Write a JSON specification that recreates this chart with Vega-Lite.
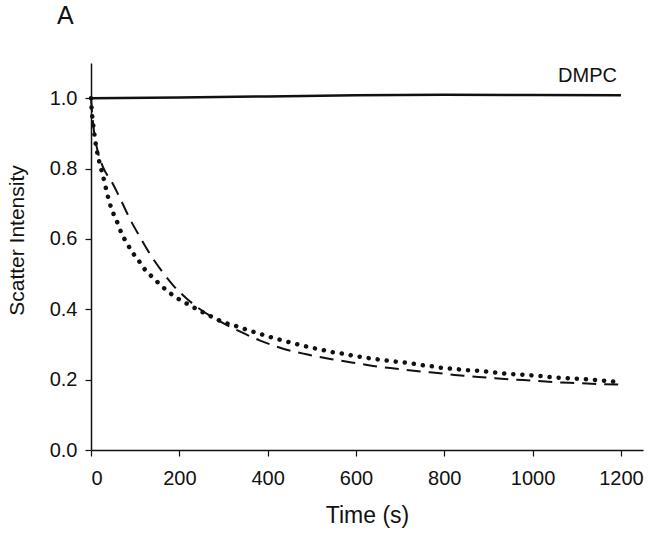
{
  "$schema": "https://vega.github.io/schema/vega-lite/v6.json",
  "width": 552,
  "height": 387,
  "autosize": "none",
  "padding": {"left": 91, "top": 63, "right": 8, "bottom": 90},
  "background": "white",
  "title": {"text": "A", "anchor": "start", "frame": "group", "dx": -34, "offset": 34, "fontSize": 25, "fontWeight": "normal", "font": "Liberation Sans", "color": "#111"},
  "config": {
    "view": {"stroke": null},
    "axis": {"grid": false, "domainColor": "#111", "tickColor": "#111", "domainWidth": 1.5, "tickWidth": 1.2, "labelColor": "#111", "titleColor": "#111", "labelFont": "Liberation Sans", "titleFont": "Liberation Sans", "labelFontSize": 20, "titleFontSize": 22, "titleFontWeight": "normal"}
  },
  "datasets": {
    "curves": [
      {"series": "DMPC", "t": 0, "v": 1.0},
      {"series": "DMPC", "t": 200, "v": 1.002},
      {"series": "DMPC", "t": 400, "v": 1.005},
      {"series": "DMPC", "t": 600, "v": 1.008},
      {"series": "DMPC", "t": 800, "v": 1.01},
      {"series": "DMPC", "t": 1000, "v": 1.009},
      {"series": "DMPC", "t": 1200, "v": 1.008},
      {"series": "dotted", "t": 0, "v": 1.0},
      {"series": "dotted", "t": 2, "v": 0.96},
      {"series": "dotted", "t": 5, "v": 0.925},
      {"series": "dotted", "t": 11, "v": 0.868},
      {"series": "dotted", "t": 19, "v": 0.818},
      {"series": "dotted", "t": 27, "v": 0.78},
      {"series": "dotted", "t": 39, "v": 0.717},
      {"series": "dotted", "t": 45, "v": 0.691},
      {"series": "dotted", "t": 53, "v": 0.665},
      {"series": "dotted", "t": 62, "v": 0.64},
      {"series": "dotted", "t": 69, "v": 0.616},
      {"series": "dotted", "t": 81, "v": 0.589},
      {"series": "dotted", "t": 92, "v": 0.565},
      {"series": "dotted", "t": 107, "v": 0.54},
      {"series": "dotted", "t": 122, "v": 0.513},
      {"series": "dotted", "t": 141, "v": 0.489},
      {"series": "dotted", "t": 160, "v": 0.466},
      {"series": "dotted", "t": 180, "v": 0.445},
      {"series": "dotted", "t": 201, "v": 0.427},
      {"series": "dotted", "t": 220, "v": 0.414},
      {"series": "dotted", "t": 240, "v": 0.4},
      {"series": "dotted", "t": 262, "v": 0.386},
      {"series": "dotted", "t": 281, "v": 0.374},
      {"series": "dotted", "t": 300, "v": 0.363},
      {"series": "dotted", "t": 322, "v": 0.355},
      {"series": "dotted", "t": 341, "v": 0.347},
      {"series": "dotted", "t": 360, "v": 0.339},
      {"series": "dotted", "t": 383, "v": 0.33},
      {"series": "dotted", "t": 401, "v": 0.323},
      {"series": "dotted", "t": 420, "v": 0.316},
      {"series": "dotted", "t": 441, "v": 0.309},
      {"series": "dotted", "t": 462, "v": 0.302},
      {"series": "dotted", "t": 482, "v": 0.296},
      {"series": "dotted", "t": 503, "v": 0.29},
      {"series": "dotted", "t": 522, "v": 0.285},
      {"series": "dotted", "t": 543, "v": 0.279},
      {"series": "dotted", "t": 564, "v": 0.275},
      {"series": "dotted", "t": 586, "v": 0.27},
      {"series": "dotted", "t": 605, "v": 0.266},
      {"series": "dotted", "t": 624, "v": 0.262},
      {"series": "dotted", "t": 647, "v": 0.258},
      {"series": "dotted", "t": 666, "v": 0.255},
      {"series": "dotted", "t": 684, "v": 0.252},
      {"series": "dotted", "t": 707, "v": 0.249},
      {"series": "dotted", "t": 726, "v": 0.246},
      {"series": "dotted", "t": 745, "v": 0.242},
      {"series": "dotted", "t": 767, "v": 0.239},
      {"series": "dotted", "t": 786, "v": 0.235},
      {"series": "dotted", "t": 809, "v": 0.232},
      {"series": "dotted", "t": 828, "v": 0.23},
      {"series": "dotted", "t": 847, "v": 0.227},
      {"series": "dotted", "t": 866, "v": 0.226},
      {"series": "dotted", "t": 888, "v": 0.224},
      {"series": "dotted", "t": 909, "v": 0.221},
      {"series": "dotted", "t": 930, "v": 0.218},
      {"series": "dotted", "t": 949, "v": 0.216},
      {"series": "dotted", "t": 967, "v": 0.215},
      {"series": "dotted", "t": 988, "v": 0.213},
      {"series": "dotted", "t": 1009, "v": 0.211},
      {"series": "dotted", "t": 1028, "v": 0.209},
      {"series": "dotted", "t": 1050, "v": 0.206},
      {"series": "dotted", "t": 1069, "v": 0.205},
      {"series": "dotted", "t": 1092, "v": 0.203},
      {"series": "dotted", "t": 1111, "v": 0.202},
      {"series": "dotted", "t": 1133, "v": 0.2},
      {"series": "dotted", "t": 1152, "v": 0.198},
      {"series": "dotted", "t": 1171, "v": 0.196},
      {"series": "dotted", "t": 1194, "v": 0.193},
      {"series": "dashed", "t": 0, "v": 1.0},
      {"series": "dashed", "t": 3, "v": 0.95},
      {"series": "dashed", "t": 8, "v": 0.895},
      {"series": "dashed", "t": 15, "v": 0.85},
      {"series": "dashed", "t": 28, "v": 0.802},
      {"series": "dashed", "t": 47, "v": 0.762},
      {"series": "dashed", "t": 66, "v": 0.715},
      {"series": "dashed", "t": 88, "v": 0.657},
      {"series": "dashed", "t": 111, "v": 0.605},
      {"series": "dashed", "t": 134, "v": 0.556},
      {"series": "dashed", "t": 160, "v": 0.509},
      {"series": "dashed", "t": 186, "v": 0.468},
      {"series": "dashed", "t": 217, "v": 0.43},
      {"series": "dashed", "t": 247, "v": 0.4},
      {"series": "dashed", "t": 290, "v": 0.367},
      {"series": "dashed", "t": 337, "v": 0.337},
      {"series": "dashed", "t": 383, "v": 0.311},
      {"series": "dashed", "t": 435, "v": 0.288},
      {"series": "dashed", "t": 488, "v": 0.272},
      {"series": "dashed", "t": 545, "v": 0.258},
      {"series": "dashed", "t": 590, "v": 0.249},
      {"series": "dashed", "t": 639, "v": 0.239},
      {"series": "dashed", "t": 692, "v": 0.231},
      {"series": "dashed", "t": 741, "v": 0.224},
      {"series": "dashed", "t": 790, "v": 0.218},
      {"series": "dashed", "t": 843, "v": 0.211},
      {"series": "dashed", "t": 896, "v": 0.206},
      {"series": "dashed", "t": 949, "v": 0.201},
      {"series": "dashed", "t": 1001, "v": 0.197},
      {"series": "dashed", "t": 1050, "v": 0.193},
      {"series": "dashed", "t": 1103, "v": 0.19},
      {"series": "dashed", "t": 1156, "v": 0.187},
      {"series": "dashed", "t": 1200, "v": 0.186}
    ]
  },
  "data": {"name": "curves"},
  "encoding": {
    "x": {"field": "t", "type": "quantitative", "scale": {"domain": [0, 1250], "nice": false},
      "axis": {"title": "Time (s)", "values": [0, 200, 400, 600, 800, 1000, 1200], "format": "d", "tickSize": 6, "labelPadding": 12, "titlePadding": 16, "titleFontSize": 23}},
    "y": {"field": "v", "type": "quantitative", "scale": {"domain": [0, 1.1], "nice": false},
      "axis": {"title": "Scatter Intensity", "values": [0, 0.2, 0.4, 0.6, 0.8, 1.0], "format": ".1f", "tickSize": 6, "labelPadding": 8, "titlePadding": 22, "titleFontSize": 21, "titleY": 177}}
  },
  "layer": [
    {"transform": [{"filter": "datum.series === 'DMPC'"}],
     "mark": {"type": "line", "color": "#111", "strokeWidth": 2.5}},
    {"transform": [{"filter": "datum.series === 'dashed'"}],
     "mark": {"type": "line", "color": "#111", "strokeWidth": 2, "strokeDash": [14, 8], "interpolate": "monotone"}},
    {"transform": [{"filter": "datum.series === 'dotted'"}],
     "mark": {"type": "line", "color": "#111", "strokeWidth": 4.5, "strokeCap": "round", "strokeDash": [0.1, 9], "interpolate": "monotone"}},
    {"transform": [{"filter": "datum.series === 'DMPC' && datum.t === 1200"}],
     "mark": {"type": "text", "text": "DMPC", "align": "right", "dx": -4, "dy": -13, "baseline": "alphabetic", "fontSize": 20, "font": "Liberation Sans", "color": "#111"}}
  ]
}
